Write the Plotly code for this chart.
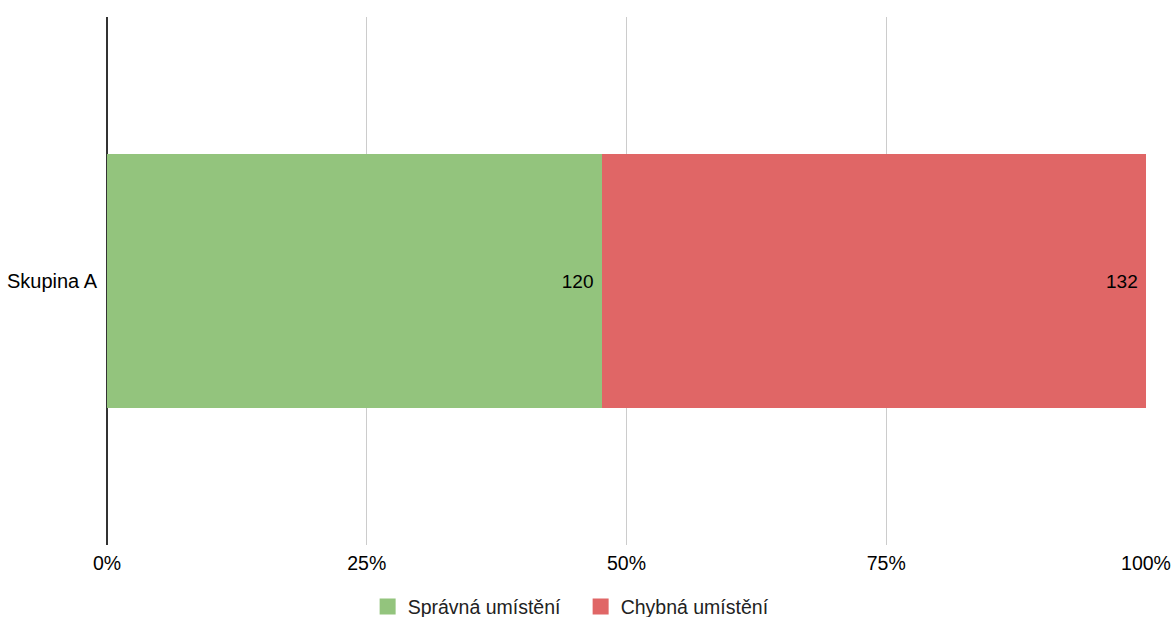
import plotly.graph_objects as go

# Data
groups = ["Skupina A"]
series_names = ["Správná umístění", "Chybná umístění"]
correct = [120]
wrong = [132]
colors = ["#93c47d", "#e06666"]

font_family = "Liberation Sans, Arial, Helvetica, sans-serif"
NBSP = "\u00a0"

fig = go.Figure()
for name, vals, col in zip(series_names, [correct, wrong], colors):
    fig.add_trace(go.Bar(
        y=groups,
        x=vals,
        name=name,
        orientation="h",
        marker=dict(color=col, line=dict(width=0)),
        text=[f"{v}{NBSP}" for v in vals],
        textposition="inside",
        insidetextanchor="end",
        textfont=dict(color="#000000", size=19, family=font_family),
        hoverinfo="skip",
        showlegend=False,
    ))
    # legend entry with a larger square swatch
    fig.add_trace(go.Scatter(
        x=[None],
        y=[None],
        mode="markers",
        name=name,
        marker=dict(symbol="square", size=16, color=col),
        hoverinfo="skip",
        showlegend=True,
    ))

fig.update_layout(
    barmode="stack",
    barnorm="percent",
    bargap=0.52,
    width=1173,
    height=617,
    margin=dict(l=107, r=27, t=17, b=72, autoexpand=False),
    paper_bgcolor="#ffffff",
    plot_bgcolor="#ffffff",
    font=dict(family=font_family, size=19, color="#000000"),
    showlegend=True,
    legend=dict(
        orientation="h",
        xref="container",
        yref="paper",
        x=0.495,
        xanchor="center",
        y=-0.117,
        yanchor="middle",
        font=dict(size=19.5, color="#222222"),
        traceorder="normal",
        itemwidth=30,
        entrywidth=168,
        entrywidthmode="pixels",
    ),
    uniformtext=dict(minsize=10, mode="show"),
)

fig.update_xaxes(
    range=[0, 100],
    tickvals=[0, 25, 50, 75, 100],
    ticktext=["0%", "25%", "50%", "75%", "100%"],
    showgrid=True,
    gridcolor="#cccccc",
    gridwidth=1,
    zeroline=True,
    zerolinecolor="#333333",
    zerolinewidth=1.5,
    showline=False,
    ticks="",
    ticklen=0,
    ticklabelstandoff=4,
    automargin=False,
    tickfont=dict(size=19.5, color="#000000"),
    fixedrange=True,
)
fig.update_yaxes(
    showgrid=False,
    zeroline=False,
    showline=False,
    ticks="",
    ticklabelstandoff=9,
    automargin=False,
    tickfont=dict(size=20, color="#000000"),
    fixedrange=True,
)

fig.write_html("out.html", config=dict(displayModeBar=False))
